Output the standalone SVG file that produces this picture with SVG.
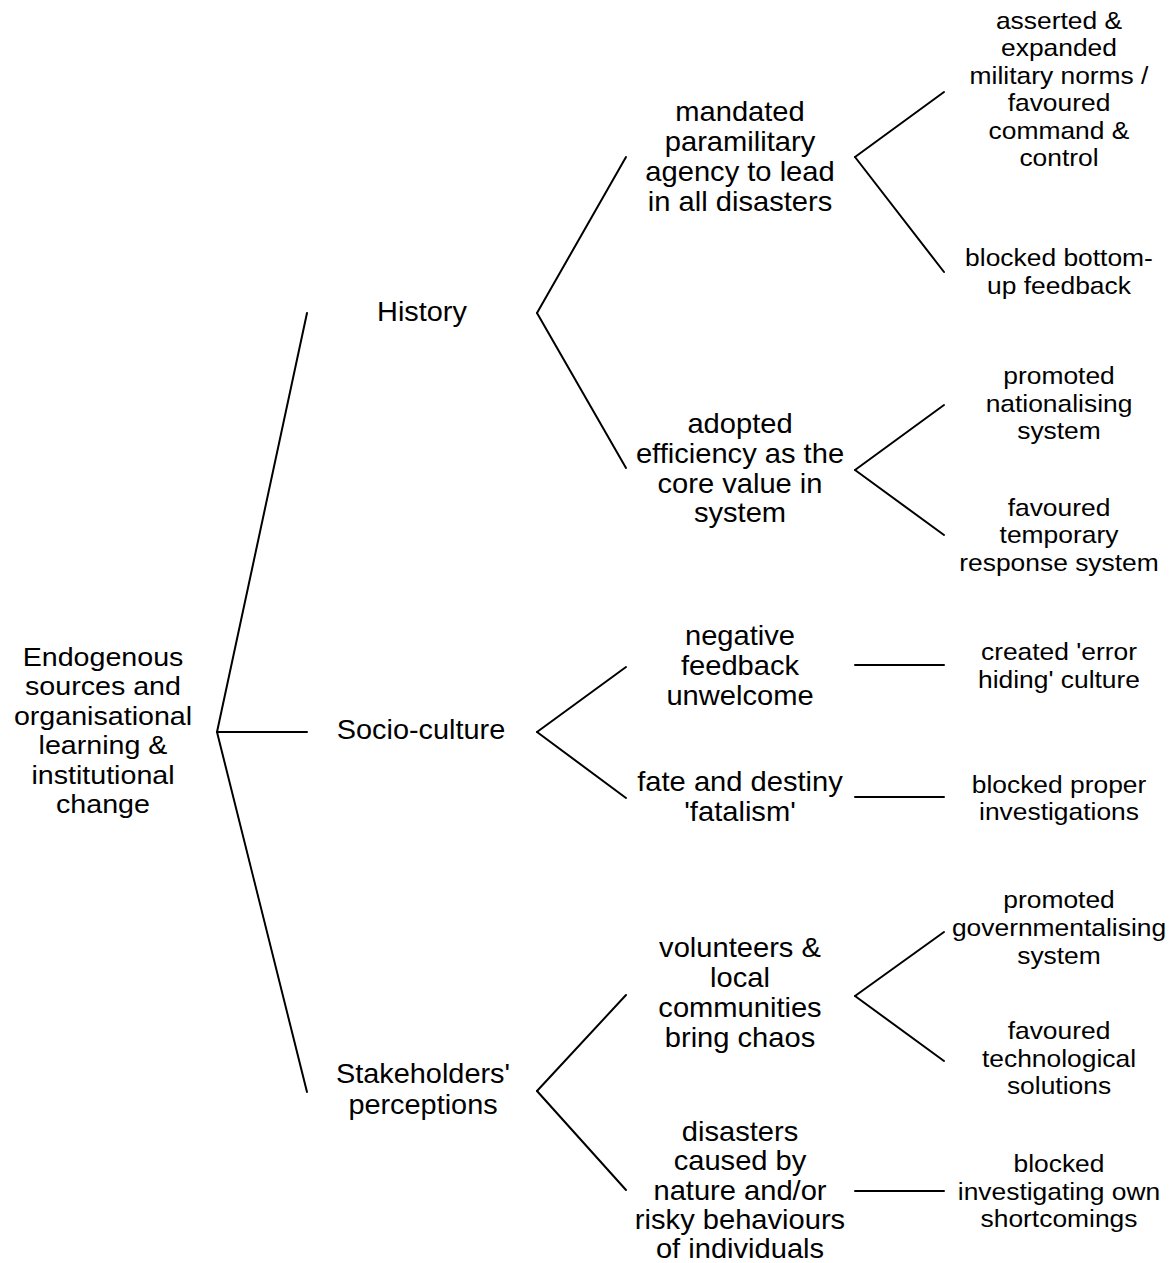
<svg xmlns="http://www.w3.org/2000/svg" width="1176" height="1263" viewBox="0 0 1176 1263">
<style>
text{font-family:"Liberation Sans",Arial,Helvetica,sans-serif;fill:#000;text-anchor:middle}
.r{font-size:26.5px}
.l1{font-size:27.5px}
.l2{font-size:28px}
.l3{font-size:24px}
.c line{stroke:#000;stroke-width:2;stroke-linecap:round;fill:none}
</style>
<rect width="1176" height="1263" fill="#fff"/>
<g id="connectors" class="c">
<line x1="217" y1="732" x2="307" y2="313"/>
<line x1="217" y1="732" x2="307" y2="732"/>
<line x1="217" y1="732" x2="307" y2="1092"/>
<line x1="537" y1="313" x2="626" y2="157"/>
<line x1="537" y1="313" x2="626" y2="468"/>
<line x1="537" y1="732" x2="626" y2="667"/>
<line x1="537" y1="732" x2="626" y2="798"/>
<line x1="537" y1="1091" x2="626" y2="995"/>
<line x1="537" y1="1091" x2="626" y2="1190"/>
<line x1="855" y1="157" x2="944" y2="92"/>
<line x1="855" y1="157" x2="944" y2="272"/>
<line x1="855" y1="470" x2="944" y2="405"/>
<line x1="855" y1="470" x2="944" y2="535"/>
<line x1="855" y1="665" x2="944" y2="665"/>
<line x1="855" y1="797" x2="944" y2="797"/>
<line x1="855" y1="996" x2="944" y2="932"/>
<line x1="855" y1="996" x2="944" y2="1061"/>
<line x1="855" y1="1191" x2="944" y2="1191"/>
</g>
<g id="root" transform="translate(103,0) scale(1.08,1)">
<text class="r" x="0" y="666">Endogenous</text>
<text class="r" x="0" y="695.5">sources and</text>
<text class="r" x="0" y="725">organisational</text>
<text class="r" x="0" y="754.5">learning &amp;</text>
<text class="r" x="0" y="784">institutional</text>
<text class="r" x="0" y="813.5">change</text>
</g>
<g id="history" transform="translate(422,0) scale(1.05,1)">
<text class="l1" x="0" y="321">History</text>
</g>
<g id="socio-culture" transform="translate(421,0) scale(1.05,1)">
<text class="l1" x="0" y="739.5">Socio-culture</text>
</g>
<g id="stakeholders" transform="translate(423,0) scale(1.05,1)">
<text class="l1" x="0" y="1083">Stakeholders'</text>
<text class="l1" x="0" y="1114">perceptions</text>
</g>
<g id="mandated" transform="translate(740,0) scale(1.04,1)">
<text class="l2" x="0" y="121">mandated</text>
<text class="l2" x="0" y="151">paramilitary</text>
<text class="l2" x="0" y="181">agency to lead</text>
<text class="l2" x="0" y="211">in all disasters</text>
</g>
<g id="adopted" transform="translate(740,0) scale(1.04,1)">
<text class="l2" x="0" y="433">adopted</text>
<text class="l2" x="0" y="463">efficiency as the</text>
<text class="l2" x="0" y="493">core value in</text>
<text class="l2" x="0" y="522">system</text>
</g>
<g id="negative" transform="translate(740,0) scale(1.04,1)">
<text class="l2" x="0" y="645">negative</text>
<text class="l2" x="0" y="675">feedback</text>
<text class="l2" x="0" y="705">unwelcome</text>
</g>
<g id="fate" transform="translate(740,0) scale(1.04,1)">
<text class="l2" x="0" y="791">fate and destiny</text>
<text class="l2" x="0" y="821">'fatalism'</text>
</g>
<g id="volunteers" transform="translate(740,0) scale(1.04,1)">
<text class="l2" x="0" y="957">volunteers &amp;</text>
<text class="l2" x="0" y="987">local</text>
<text class="l2" x="0" y="1017">communities</text>
<text class="l2" x="0" y="1047">bring chaos</text>
</g>
<g id="disasters" transform="translate(740,0) scale(1.04,1)">
<text class="l2" x="0" y="1141">disasters</text>
<text class="l2" x="0" y="1170.5">caused by</text>
<text class="l2" x="0" y="1200">nature and/or</text>
<text class="l2" x="0" y="1229.5">risky behaviours</text>
<text class="l2" x="0" y="1258">of individuals</text>
</g>
<g id="asserted" transform="translate(1059,0) scale(1.1,1)">
<text class="l3" x="0" y="29">asserted &amp;</text>
<text class="l3" x="0" y="56.4">expanded</text>
<text class="l3" x="0" y="83.8">military norms /</text>
<text class="l3" x="0" y="111.2">favoured</text>
<text class="l3" x="0" y="138.6">command &amp;</text>
<text class="l3" x="0" y="166">control</text>
</g>
<g id="blocked-bottom-up" transform="translate(1059,0) scale(1.1,1)">
<text class="l3" x="0" y="266">blocked bottom-</text>
<text class="l3" x="0" y="294">up feedback</text>
</g>
<g id="promoted-nationalising" transform="translate(1059,0) scale(1.1,1)">
<text class="l3" x="0" y="384">promoted</text>
<text class="l3" x="0" y="412">nationalising</text>
<text class="l3" x="0" y="439">system</text>
</g>
<g id="favoured-temporary" transform="translate(1059,0) scale(1.1,1)">
<text class="l3" x="0" y="516">favoured</text>
<text class="l3" x="0" y="543.5">temporary</text>
<text class="l3" x="0" y="571">response system</text>
</g>
<g id="error-hiding" transform="translate(1059,0) scale(1.1,1)">
<text class="l3" x="0" y="660">created 'error</text>
<text class="l3" x="0" y="688">hiding' culture</text>
</g>
<g id="blocked-proper" transform="translate(1059,0) scale(1.1,1)">
<text class="l3" x="0" y="793">blocked proper</text>
<text class="l3" x="0" y="820">investigations</text>
</g>
<g id="promoted-governmentalising" transform="translate(1059,0) scale(1.1,1)">
<text class="l3" x="0" y="908">promoted</text>
<text class="l3" x="0" y="936">governmentalising</text>
<text class="l3" x="0" y="964">system</text>
</g>
<g id="favoured-technological" transform="translate(1059,0) scale(1.1,1)">
<text class="l3" x="0" y="1039">favoured</text>
<text class="l3" x="0" y="1067">technological</text>
<text class="l3" x="0" y="1094">solutions</text>
</g>
<g id="blocked-investigating" transform="translate(1059,0) scale(1.1,1)">
<text class="l3" x="0" y="1172">blocked</text>
<text class="l3" x="0" y="1200">investigating own</text>
<text class="l3" x="0" y="1227">shortcomings</text>
</g>
</svg>
